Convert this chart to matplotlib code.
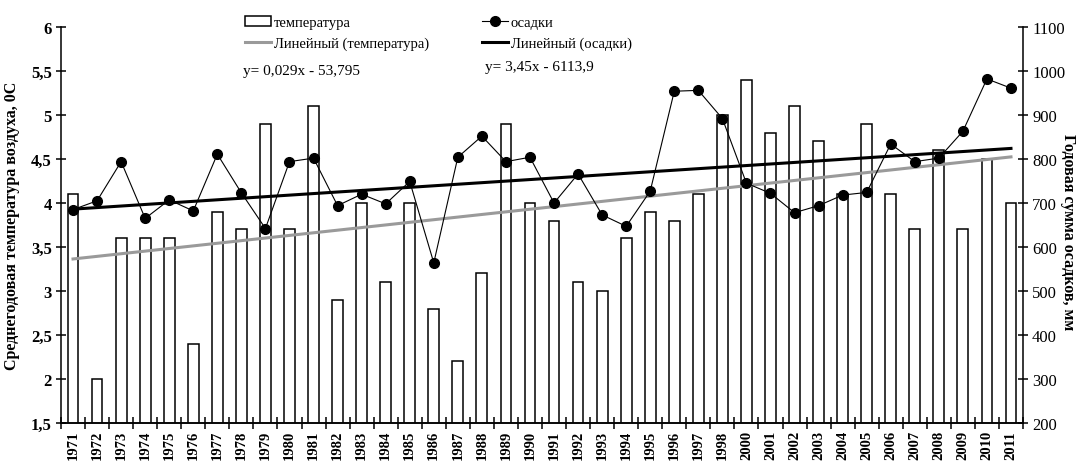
import numpy as np
import matplotlib.pyplot as plt
from matplotlib.ticker import FuncFormatter

plt.rcParams['font.family'] = ['Liberation Serif', 'DejaVu Serif']

# years as printed on the axis (1999 is not in the series)
years = [str(y) for y in range(1971, 1999)] + [str(y) for y in range(2000, 2012)]

# mean annual air temperature, °C
temp = [4.1, 2.0, 3.6, 3.6, 3.6, 2.4, 3.9, 3.7, 4.9, 3.7,
        5.1, 2.9, 4.0, 3.1, 4.0, 2.8, 2.2, 3.2, 4.9, 4.0,
        3.8, 3.1, 3.0, 3.6, 3.9, 3.8, 4.1, 5.0, 5.4, 4.8,
        5.1, 4.7, 4.1, 4.9, 4.1, 3.7, 4.6, 3.7, 4.5, 4.0]

# annual precipitation, mm
precip = [685, 705, 794, 665, 707, 682, 811, 723, 642, 794,
          802, 694, 720, 698, 749, 564, 804, 852, 794, 804,
          700, 766, 673, 647, 727, 954, 956, 892, 745, 722,
          678, 694, 718, 724, 834, 794, 802, 863, 982, 961]

# linear trend coefficients (x = year)
t_slope, t_icpt = 0.029, -53.795
p_slope, p_icpt = 3.45, -6113.9

x = np.arange(len(years))
yr = np.linspace(1971, 2011, len(years))
trend_t = t_slope * yr + t_icpt
trend_p = p_slope * yr + p_icpt

fig = plt.figure(figsize=(10.8, 4.64), dpi=100)
ax = fig.add_axes([61 / 1080, 40 / 464, 962 / 1080, 396 / 464])
ax2 = ax.twinx()

bars = ax.bar(x, temp, width=0.45, facecolor='white', edgecolor='black',
              linewidth=1.1, zorder=2, label='температура')
lt, = ax.plot(x, trend_t, color='#9a9a9a', lw=2.2, zorder=3,
              label='Линейный (температура)')
lp, = ax2.plot(x, precip, color='black', lw=0.8, marker='o', ms=7,
               label='осадки')
ltp, = ax2.plot(x, trend_p, color='black', lw=2.2,
                label='Линейный (осадки)')

ax.set_xlim(-0.5, len(years) - 0.5)
ax.set_ylim(1.5, 6)
ax2.set_ylim(200, 1100)
ax.set_yticks(np.arange(1.5, 6.01, 0.5))
ax2.set_yticks(np.arange(200, 1101, 100))
ax.yaxis.set_major_formatter(FuncFormatter(lambda v, p: f'{v:g}'.replace('.', ',')))

for a in (ax, ax2):
    a.spines['top'].set_visible(False)
    a.spines['left'].set_linewidth(1.1)
    a.spines['right'].set_linewidth(1.1)
    a.spines['bottom'].set_linewidth(1.1)
ax.spines['right'].set_visible(False)
ax2.spines['left'].set_visible(False)

# category boundaries as major ticks, year labels on minor ticks
ax.set_xticks(np.arange(-0.5, len(years), 1))
ax.set_xticklabels([])
ax.set_xticks(x, minor=True)
ax.set_xticklabels(years, minor=True, rotation=90, fontsize=10.5,
                   fontweight='bold')
ax.tick_params(axis='x', which='major', direction='inout', length=8, width=1.1)
ax.tick_params(axis='x', which='minor', length=0, pad=5)
ax.tick_params(axis='y', direction='inout', length=7, width=1.1,
               labelsize=12, pad=3)
for t in ax.get_yticklabels():
    t.set_fontweight('bold')
ax2.tick_params(axis='y', direction='inout', length=7, width=1.1,
                labelsize=12, pad=3)

ax.set_ylabel('Среднегодовая температура воздуха, 0С', fontsize=11.5,
              fontweight='bold', labelpad=8)
fig.text(1068 / 1080, 0.5, 'Годовая сумма осадков, мм', fontsize=11.5,
         fontweight='bold', rotation=-90, ha='center', va='center')

fig.legend([bars, lt, lp, ltp],
           ['температура', 'Линейный (температура)', 'осадки', 'Линейный (осадки)'],
           ncol=2, frameon=False, fontsize=10.5, loc='upper left',
           bbox_to_anchor=(236 / 1080, 1 - 8 / 464), handlelength=1.8,
           handletextpad=0.2, columnspacing=3.6, labelspacing=0.55,
           borderaxespad=0.2)

fig.text(243 / 1080, 1 - 72 / 464, 'y= 0,029x - 53,795', fontsize=11, va='center')
fig.text(485 / 1080, 1 - 68 / 464, 'y= 3,45x - 6113,9', fontsize=11, va='center')

fig.savefig('out.png', dpi=100)
